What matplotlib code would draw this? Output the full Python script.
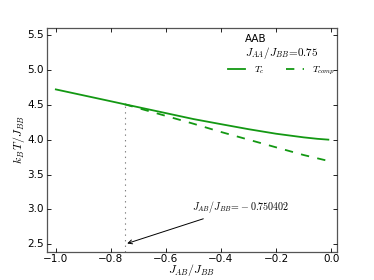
import matplotlib
matplotlib.use("Agg")
import matplotlib.pyplot as plt
import numpy as np

plt.style.use("classic")
plt.rcParams['mathtext.fontset'] = 'cm'
plt.rcParams['font.family'] = ['DejaVu Sans']

# data
j_ab_tc = [-1.0, -0.9, -0.8, -0.75, -0.7, -0.6, -0.5, -0.4, -0.3, -0.2, -0.1, -0.05, -0.01]
tc = [4.72, 4.635, 4.55, 4.507, 4.465, 4.38, 4.295, 4.222, 4.15, 4.085, 4.033, 4.012, 4.0]
j_ab_comp = [-0.75, -0.6, -0.5, -0.4, -0.3, -0.2, -0.1, -0.01]
tcomp = [4.507, 4.34, 4.228, 4.11, 4.0, 3.89, 3.78, 3.695]
j_crit = -0.750402
title_text = "AAB"
ratio_text = r"$J_{AA}/J_{BB}\!=\!0.75$"

fig = plt.figure(figsize=(3.74, 2.8), dpi=100)
ax = fig.add_subplot(111)
fig.subplots_adjust(left=0.125, right=0.9, bottom=0.1, top=0.9)

green = '#139813'
ax.plot(j_ab_tc, tc, '-', color=green, lw=1.3, label=r'$T_c$')
ax.plot(j_ab_comp, tcomp, '--', color=green, lw=1.3, label=r'$T_{comp}$')
ax.plot([j_crit, j_crit], [2.39, tc[3]], ':', color='gray', lw=0.8)

ax.set_xlim(-1.033, 0.02)
ax.set_ylim(2.39, 5.6)
ax.set_xticks([-1.0, -0.8, -0.6, -0.4, -0.2, 0.0])
ax.set_yticks([2.5, 3.0, 3.5, 4.0, 4.5, 5.0, 5.5])
ax.tick_params(labelsize=7.5, length=3, width=0.6)
ax.tick_params(axis='x', pad=1.5)
ax.tick_params(axis='y', pad=2)
for s in ax.spines.values():
    s.set_linewidth(0.9)
    s.set_color('#555555')

ax.set_xlabel(r'$J_{AB}/J_{BB}$', fontsize=8.5, labelpad=-1.5)
ax.set_ylabel(r'$k_B\,T/J_{BB}$', fontsize=8.5, labelpad=0)

ax.annotate(r'$J_{AB}/J_{BB}\!=\!-0.750402$', xy=(j_crit, 2.5), xytext=(-0.505, 3.04),
            fontsize=7.2, va='center', ha='left',
            arrowprops=dict(arrowstyle='->', color='black', lw=0.7))

ax.text(0.685, 0.95, title_text, transform=ax.transAxes, fontsize=7.5, va='center', ha='left')
ax.text(0.685, 0.89, ratio_text, transform=ax.transAxes, fontsize=8, va='center', ha='left')
leg = ax.legend(loc='upper right', bbox_to_anchor=(1.027, 0.875), ncol=2, frameon=False,
                fontsize=7, handlelength=2.4, columnspacing=1.9, handletextpad=0.6)

fig.savefig('out.png', dpi=100)
